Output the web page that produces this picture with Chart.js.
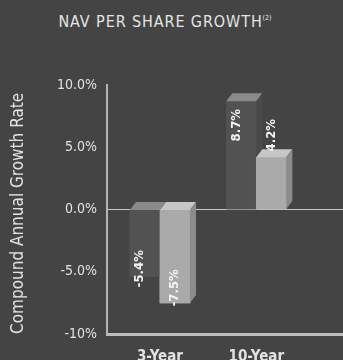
<!DOCTYPE html>
<html>
<head>
<meta charset="utf-8">
<script src="https://cdn.jsdelivr.net/npm/chart.js@4.4.1/dist/chart.umd.min.js"></script>
<style>
  html, body { margin: 0; padding: 0; background: #444444; }
  #wrap { position: relative; width: 343px; height: 360px; }
  #heading {
    position: absolute; left: 0; top: 12px; width: 330px; text-align: center;
    font-family: "DejaVu Sans Condensed", "Liberation Sans Narrow", Roboto, sans-serif;
    font-size: 16px; letter-spacing: 0.9px; color: #e4e4e4;
  }
  #heading sup { font-size: 7px; letter-spacing: 0; vertical-align: 7px; }
  canvas { position: absolute; left: 0; top: 0; }
</style>
</head>
<body>
<div id="wrap">
  <div id="heading">NAV PER SHARE GROWTH<sup>(2)</sup></div>
  <canvas id="chart" width="343" height="360"></canvas>
</div>
<script>
// periods on the x axis and the two growth series (percent)
const periods = ['3-Year', '10-Year'];
const seriesDark = [-5.4, 8.7];
const seriesLight = [-7.5, 4.2];
const yTicks = [10, 5, 0, -5, -10];
const yTickLabels = ['10.0%', '5.0%', '0.0%', '-5.0%', '-10%'];

const FONT = '"DejaVu Sans Condensed", "Liberation Sans Narrow", Roboto, sans-serif';
const TEXT = '#e2e2e2';

// face colours for the fake 3d blocks: front, top, side
const shades = [
  { front: '#525252', top: '#8a8a8a', side: '#4a4a4a' },
  { front: '#aaaaaa', top: '#c6c6c6', side: '#8c8c8c' }
];
const DX = 6, DY = 8;

function toPoints(values) {
  return values.map((v, i) => ({ x: i, y: v }));
}

// redraw the bars left to right with their top and side faces,
// so each right-hand block covers the one before it
const blocks = {
  id: 'blocks',
  afterDatasetsDraw(chart) {
    const ctx = chart.ctx;
    chart.data.datasets.forEach((ds, di) => {
      const c = shades[di];
      chart.getDatasetMeta(di).data.forEach(bar => {
        bar.draw(ctx);
        const l = bar.x - bar.width / 2, r = bar.x + bar.width / 2;
        const t = Math.min(bar.y, bar.base), b = Math.max(bar.y, bar.base);
        ctx.save();
        ctx.fillStyle = c.top;
        ctx.beginPath();
        ctx.moveTo(l, t); ctx.lineTo(r, t); ctx.lineTo(r + DX, t - DY); ctx.lineTo(l + DX, t - DY);
        ctx.closePath(); ctx.fill();
        ctx.fillStyle = c.side;
        ctx.beginPath();
        ctx.moveTo(r, t); ctx.lineTo(r + DX, t - DY); ctx.lineTo(r + DX, b - DY); ctx.lineTo(r, b);
        ctx.closePath(); ctx.fill();
        ctx.restore();
      });
    });

    // rotated value labels, reading bottom to top
    chart.data.datasets.forEach((ds, di) => {
      chart.getDatasetMeta(di).data.forEach((bar, i) => {
        const v = ds.data[i].y;
        const h = Math.abs(bar.base - bar.y);
        let cy;
        if (v >= 0) cy = h > 60 ? bar.y + 24 : bar.y - 22;
        else cy = bar.y - (di === 0 ? 8 : 15);
        const cx = bar.x - (di === 0 ? 5 : 0);
        ctx.save();
        ctx.translate(cx, cy);
        ctx.rotate(-Math.PI / 2);
        ctx.font = 'bold 13px ' + FONT;
        ctx.fillStyle = '#f4f4f4';
        ctx.textAlign = 'center';
        ctx.textBaseline = 'middle';
        ctx.fillText(v.toFixed(1) + '%', 0, 0);
        ctx.restore();
      });
    });
  }
};

new Chart(document.getElementById('chart'), {
  type: 'bar',
  data: {
    datasets: [
      { label: 'Series 1', data: toPoints(seriesDark), backgroundColor: shades[0].front, barThickness: 30 },
      { label: 'Series 2', data: toPoints(seriesLight), backgroundColor: shades[1].front, barThickness: 30 }
    ]
  },
  options: {
    responsive: false,
    animation: false,
    layout: { padding: { top: 85, left: 0, right: 0, bottom: 0 } },
    plugins: { legend: { display: false }, tooltip: { enabled: false } },
    scales: {
      x: {
        type: 'linear',
        min: -0.55,
        max: 1.9,
        offset: false,
        afterBuildTicks: s => { s.ticks = periods.map((_, i) => ({ value: i })); },
        afterFit: s => { s.height = 26; },
        grid: { display: false },
        border: { color: '#bdbdbd', width: 3 },
        ticks: {
          callback: v => periods[v],
          color: TEXT,
          padding: 6,
          maxRotation: 0,
          autoSkip: false,
          font: { family: FONT, size: 15, weight: 'bold' }
        }
      },
      y: {
        min: -10,
        max: 10,
        afterBuildTicks: s => { s.ticks = yTicks.map(v => ({ value: v })); },
        afterFit: s => { s.width = 107; },
        grid: {
          color: c => (c.tick && c.tick.value === 0 ? '#c8c8c8' : 'transparent'),
          lineWidth: 1,
          drawTicks: false
        },
        border: { color: '#b5b5b5', width: 2 },
        ticks: {
          callback: v => yTickLabels[yTicks.indexOf(v)],
          color: TEXT,
          padding: 10,
          font: { family: FONT, size: 14 }
        },
        title: {
          display: true,
          text: 'Compound Annual Growth Rate',
          align: 'start',
          color: TEXT,
          padding: { top: 8, bottom: 0 },
          font: { family: FONT, size: 17 }
        }
      }
    }
  },
  plugins: [blocks]
});
</script>
</body>
</html>
